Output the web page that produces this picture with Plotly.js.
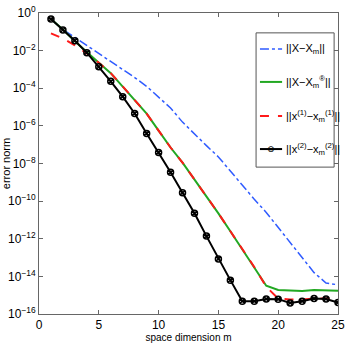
<!DOCTYPE html>
<html>
<head>
<meta charset="utf-8">
<script src="https://cdn.plot.ly/plotly-3.0.1.min.js"></script>
<style>
  html, body { margin: 0; padding: 0; background: #fff; }
  #chart { width: 346px; height: 346px; }
</style>
</head>
<body>
<div id="chart"></div>
<script>
// space dimension m
const m = [1, 2, 3, 4, 5, 6, 7, 8, 9, 10, 11, 12, 13, 14, 15, 16, 17, 18, 19, 20, 21, 22, 23, 24, 25];

// error norms as log10 exponents
const expXXm = [-0.32, -0.88, -1.3, -1.72, -2.15, -2.57, -3.0, -3.43, -3.9, -4.45, -5.05, -5.8, -6.45,
  -7.05, -7.65, -8.4, -9.2, -9.9, -10.6, -11.4, -12.2, -13.0, -13.8, -14.35, -14.45];
const expXXmR = [-0.32, -0.88, -1.5, -2.1, -2.65, -3.2, -3.9, -4.6, -5.35, -6.25, -7.15, -7.95, -8.85,
  -9.7, -10.65, -11.6, -12.55, -13.5, -14.5, -14.72, -14.77, -14.78, -14.72, -14.72, -14.76];
const expX1 = [-1.08, -1.35, -1.72, -2.15, -2.65, -3.2, -3.9, -4.6, -5.35, -6.25, -7.15, -7.95, -8.85,
  -9.7, -10.65, -11.6, -12.55, -13.5, -14.55, -15.18, -15.23, -15.23, -15.18, -15.18, -15.12];
const expX2 = [-0.32, -0.9, -1.47, -2.11, -2.86, -3.63, -4.45, -5.34, -6.4, -7.41, -8.47, -9.56, -10.65,
  -11.86, -13.07, -14.2, -15.32, -15.32, -15.2, -15.21, -15.41, -15.32, -15.18, -15.2, -15.39];

const names = [
  "||X−X<sub>m</sub>||",
  "||X−X<sub>m</sub><sup>®</sup>||",
  "||x<sup>(1)</sup>−x<sub>m</sub><sup>(1)</sup>||",
  "||x<sup>(2)</sup>−x<sub>m</sub><sup>(2)</sup>||",
];
const colors = ["#2f5bff", "#22a822", "#ff1a1a", "#000"];
const dashes = ["dashdot", "solid", "dash", "solid"];

const yTickVals = [1, 1e-2, 1e-4, 1e-6, 1e-8, 1e-10, 1e-12, 1e-14, 1e-16];
const yTickText = ["10<sup>0</sup>", "10<sup>−2</sup>", "10<sup>−4</sup>", "10<sup>−6</sup>", "10<sup>−8</sup>",
  "10<sup>−10</sup>", "10<sup>−12</sup>", "10<sup>−14</sup>", "10<sup>−16</sup>"];

const pow10 = (a) => a.map((e) => Math.pow(10, e));
const font = "Liberation Sans Narrow, Liberation Sans, Arial, sans-serif";

const series = [expXXm, expXXmR, expX1, expX2];
const traces = series.map((s, i) => ({
  x: m, y: pow10(s), name: names[i],
  mode: i === 3 ? "lines+markers" : "lines",
  line: { color: colors[i], width: i === 0 ? 1.5 : 2, dash: dashes[i] },
  marker: { symbol: "circle-x-open", size: 6, color: "#000", line: { width: 1.5, color: "#000" } },
  showlegend: false,
}));

// hand-made legend box (Plotly's own legend is too wide here)
const legX0 = 0.726, legX1 = 0.987, legY0 = 0.488, legY1 = 0.934;
const rowY = [0.880, 0.771, 0.658, 0.548];
const sampleX0 = 0.739, sampleX1 = 0.813, textX = 0.82;

const shapes = [{
  type: "rect", xref: "paper", yref: "paper", x0: legX0, x1: legX1, y0: legY0, y1: legY1,
  fillcolor: "#fff", line: { color: "#555", width: 1 }, layer: "above",
}];
rowY.forEach((y, i) => {
  shapes.push({
    type: "line", xref: "paper", yref: "paper", x0: sampleX0, x1: sampleX1, y0: y, y1: y,
    line: { color: colors[i], width: i === 0 ? 1.5 : 2, dash: dashes[i] }, layer: "above",
  });
});
const annotations = rowY.map((y, i) => ({
  xref: "paper", yref: "paper", x: textX, y: y, xanchor: "left", yanchor: "middle",
  text: names[i], showarrow: false, font: { family: font, size: 11, color: "#000" },
}));
// marker in the black sample
annotations.push({
  xref: "paper", yref: "paper", x: (sampleX0 + sampleX1) / 2, y: rowY[3],
  xanchor: "center", yanchor: "middle", text: "⊗", showarrow: false,
  font: { family: "DejaVu Sans", size: 9, color: "#000" },
});

const axisCommon = {
  showline: true, linecolor: "#666", linewidth: 1, mirror: "ticks",
  ticks: "inside", ticklen: 4, tickcolor: "#666",
  showgrid: false, zeroline: false,
  tickfont: { family: font, size: 12, color: "#000" },
};

const layout = {
  width: 346, height: 346,
  margin: { l: 39, r: 8, t: 13, b: 32, autoexpand: false },
  paper_bgcolor: "#fff", plot_bgcolor: "#fff",
  font: { family: font, color: "#000" },
  showlegend: false,
  shapes, annotations,
  xaxis: {
    ...axisCommon,
    range: [0, 25], tickvals: [0, 5, 10, 15, 20, 25],
    title: { text: "space dimension m", font: { family: font, size: 10 }, standoff: 2 },
  },
  yaxis: {
    ...axisCommon,
    type: "log", range: [-16, 0],
    tickvals: yTickVals, ticktext: yTickText,
    title: { text: "error norm", font: { family: font, size: 11 }, standoff: 4 },
  },
};

Plotly.newPlot("chart", traces, layout, { displayModeBar: false, staticPlot: true });
</script>
</body>
</html>
